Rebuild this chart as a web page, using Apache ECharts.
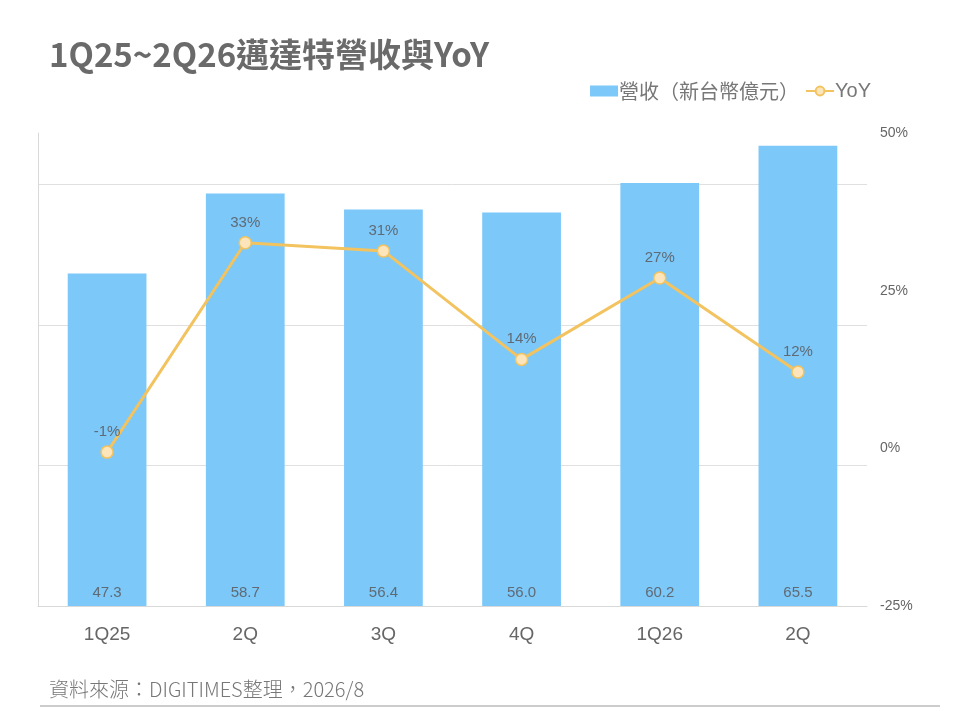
<!DOCTYPE html>
<html>
<head>
    <meta charset="utf-8" />
    <title>邁達特營收與YoY</title>
    <script src="https://cdn.jsdelivr.net/npm/echarts@6.0.0/dist/echarts.min.js"></script>
    <style>
        html, body { margin: 0; padding: 0; background: #fff; }
    </style>
</head>
<body>
    <div id="main" style="width: 960px;height:720px;"></div>
    <script type="text/javascript">
        // 資料
        var quarters = ['1Q25', '2Q', '3Q', '4Q', '1Q26', '2Q'];
        var revenue = [47.3, 58.7, 56.4, 56.0, 60.2, 65.5];   // 新台幣億元
        var yoy = [-0.6, 32.6, 31.3, 14.1, 27.0, 12.1];        // %
        var yoyTicks = [-25, 0, 25, 50];

        var myChart = echarts.init(document.getElementById('main'));

        var cjk = '"Noto Sans CJK TC", "Noto Sans", sans-serif';
        var latin = '"Liberation Sans", Arial, sans-serif';

        var option = {
            animation: false,
            title: [
                {
                    text: '1Q25~2Q26邁達特營收與YoY',
                    left: 44,
                    top: 33,
                    textStyle: { fontFamily: cjk, fontSize: 33, fontWeight: 'bold', color: '#6a6a6a' }
                },
                {
                    text: '資料來源：DIGITIMES整理，2026/8',
                    left: 44,
                    top: 674,
                    textStyle: { fontFamily: cjk, fontSize: 20, fontWeight: 300, color: '#777' }
                }
            ],
            legend: {
                right: 84,
                top: 76,
                itemGap: 6,
                itemWidth: 28,
                itemHeight: 11,
                textStyle: { fontFamily: cjk, fontSize: 20, color: '#777', padding: [0, 0, 0, -4] },
                data: [
                    { name: '營收（新台幣億元）', icon: 'rect' },
                    { name: 'YoY', textStyle: { fontFamily: latin, fontSize: 20 } }
                ]
            },
            grid: { left: 38, right: 93, top: 133, bottom: 114 },
            xAxis: {
                type: 'category',
                data: quarters,
                axisLine: { lineStyle: { color: '#d9d9d9' } },
                axisTick: { show: false },
                axisLabel: { fontFamily: latin, fontSize: 19, color: '#666', margin: 19 }
            },
            yAxis: [
                {
                    type: 'value',
                    min: 0,
                    max: 67.3,
                    interval: 20,
                    axisLine: { show: true, lineStyle: { color: '#d9d9d9' } },
                    axisTick: { show: false },
                    axisLabel: { show: false },
                    splitLine: { showMaxLine: false, lineStyle: { color: '#e0e0e0' } }
                },
                {
                    type: 'value',
                    min: yoyTicks[0],
                    max: yoyTicks[yoyTicks.length - 1],
                    interval: 25,
                    position: 'right',
                    axisLine: { show: false },
                    axisTick: { show: false },
                    splitLine: { show: false },
                    axisLabel: {
                        fontFamily: latin, fontSize: 14, color: '#666', margin: 13,
                        formatter: function (v) { return v + '%'; }
                    }
                }
            ],
            series: [
                {
                    name: '營收（新台幣億元）',
                    type: 'bar',
                    data: revenue,
                    barWidth: '57%',
                    itemStyle: { color: '#7cc8f9' },
                    label: {
                        show: true,
                        position: 'insideBottom',
                        distance: 6,
                        fontFamily: latin,
                        fontSize: 15,
                        color: '#5f6a75',
                        formatter: function (p) { return p.value.toFixed(1); }
                    }
                },
                {
                    name: 'YoY',
                    type: 'line',
                    yAxisIndex: 1,
                    data: yoy,
                    symbol: 'circle',
                    symbolSize: 12,
                    lineStyle: { color: '#f2c35f', width: 3 },
                    itemStyle: { color: '#fce5bb', borderColor: '#f2c35f', borderWidth: 1.5 },
                    label: {
                        show: true,
                        position: 'top',
                        distance: 6,
                        fontFamily: latin,
                        fontSize: 15,
                        color: '#5f6a75',
                        formatter: function (p) { return Math.round(p.value) + '%'; }
                    },
                    z: 5
                }
            ],
            graphic: [
                {
                    type: 'line',
                    shape: { x1: 40, y1: 706, x2: 940, y2: 706 },
                    style: { stroke: '#999', lineWidth: 1 }
                }
            ]
        };

        myChart.setOption(option);
    </script>
</body>
</html>
